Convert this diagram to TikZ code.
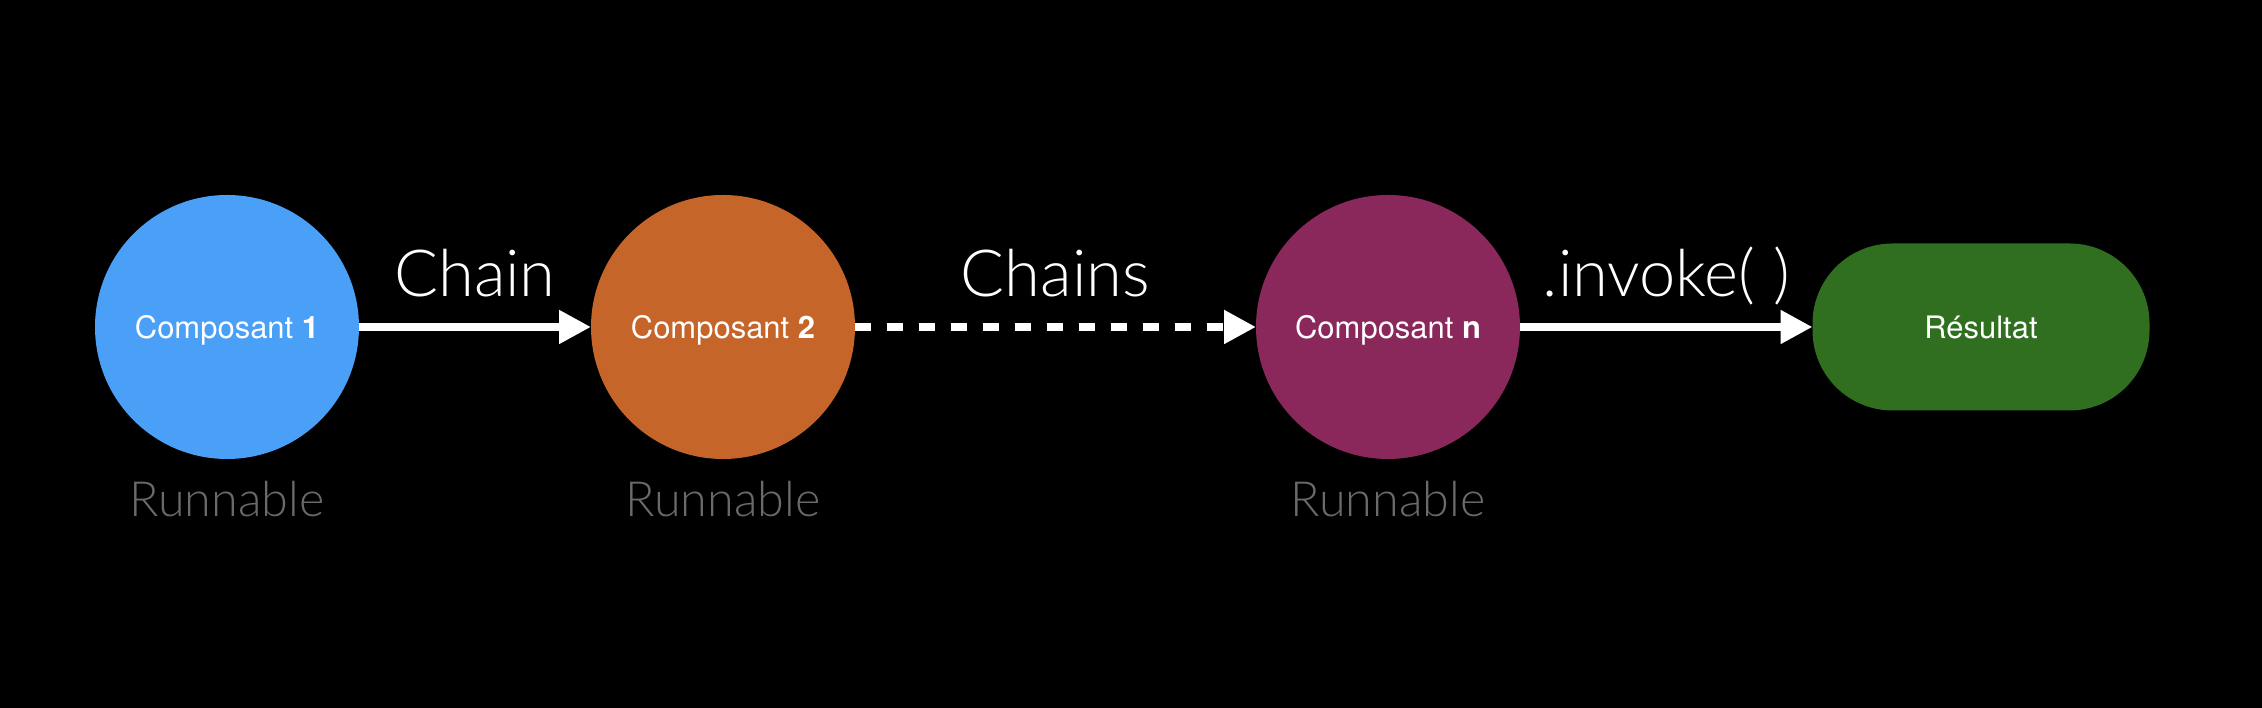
\documentclass[tikz,border=0pt]{standalone}
\usepackage{fontspec}
\setmainfont{TeX Gyre Heros}
\newfontfamily\lightfont{Lato Light}
\usetikzlibrary{arrows.meta}
\definecolor{lcBlue}{HTML}{4A9FF7}
\definecolor{lcOrange}{HTML}{C5652A}
\definecolor{lcPlum}{HTML}{8B285B}
\definecolor{lcGreen}{HTML}{306F20}
\definecolor{lcGray}{HTML}{6A6A6A}

\begin{document}
\begin{tikzpicture}[
  comp/.style={circle,minimum size=2.64cm,inner sep=0pt,outer sep=0pt,text=white,
    text depth=0pt,font=\fontsize{8.8}{10}\selectfont},
  result/.style={rectangle,rounded corners=0.8cm,minimum width=3.37cm,minimum height=1.67cm,
    inner sep=0pt,outer sep=0pt,text=white,font=\fontsize{8.8}{10}\selectfont},
  runlbl/.style={anchor=base,text=lcGray,font=\lightfont\fontsize{13.8}{16}\selectfont},
  arrlbl/.style={anchor=base,yshift=0.30cm,text=white,font=\lightfont\fontsize{18.5}{22}\selectfont},
  flow/.style={white,line width=0.08cm,-{Triangle[length=0.32cm,width=0.32cm]}},
  dashflow/.style={flow,dash pattern=on 0.16cm off 0.16cm}
]
\fill[black] (0,0) rectangle (22.62,7.08);

% components
\node[comp,fill=lcBlue] (c1) at (2.27,3.81) {Composant \textbf{1}};
\node[comp,fill=lcOrange] (c2) at (7.23,3.81) {Composant \textbf{2}};
\node[comp,fill=lcPlum] (cn) at (13.88,3.81) {Composant \textbf{n}};
\node[result,fill=lcGreen] (res) at (19.81,3.81) {Résultat};

\node[runlbl] (r1) at (2.27,1.91) {Runnable};
\node[runlbl] (r2) at (7.23,1.91) {Runnable};
\node[runlbl] (rn) at (13.88,1.91) {Runnable};

% links
\draw[flow] (c1) -- node[arrlbl]{Chain} (c2);
\draw[dashflow] (c2) -- node[arrlbl]{Chains} (cn);
\draw[flow] (cn) -- node[arrlbl]{.invoke( )} (res);
\end{tikzpicture}
\end{document}
